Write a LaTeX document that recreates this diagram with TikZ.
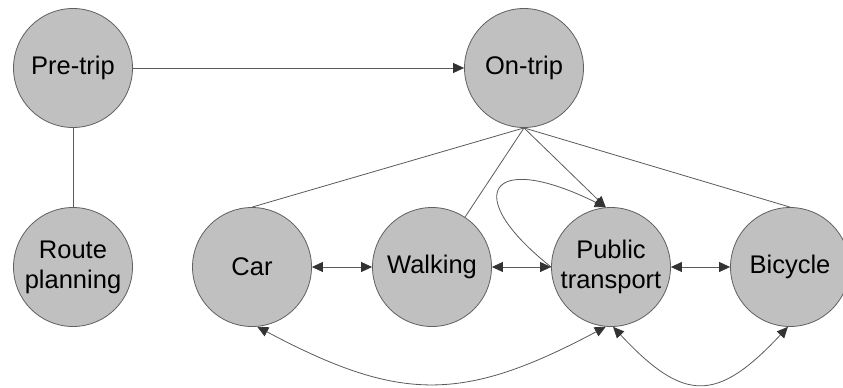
\documentclass[tikz,border=0pt]{standalone}
\usepackage{fontspec}
\setmainfont{Liberation Sans}
\usetikzlibrary{arrows.meta}
\definecolor{fillgray}{HTML}{C0C0C0}
\definecolor{bordergray}{HTML}{606060}
\definecolor{linegray}{HTML}{5A5A5A}
\definecolor{tipgray}{HTML}{333333}
\begin{document}
\begin{tikzpicture}[x=1pt,y=-1pt,
  state/.style={circle,draw=bordergray,fill=fillgray,line width=0.8pt,
    minimum size=119pt,inner sep=0pt,align=center,
    font=\fontsize{25.5}{30}\selectfont,text=black},
  conn/.style={draw=linegray,line width=0.8pt},
  tipend/.style={-{Triangle[length=11pt,width=10pt,color=tipgray]}},
  tipboth/.style={{Triangle[length=11pt,width=10pt,color=tipgray]}-{Triangle[length=11pt,width=10pt,color=tipgray]}}]
\useasboundingbox (0,0) rectangle (843,388);
\node[state] (pre)   at (73,68)   {Pre-trip};
\node[state] (on)    at (524,68)  {On-trip};
\node[state] (route) at (73,267)  {Route\\planning};
\node[state] (car)   at (252,267) {Car};
\node[state] (walk)  at (432,267) {Walking};
\node[state] (pt)    at (611,267) {Public\\transport};
\node[state] (bike)  at (790,267) {Bicycle};
% top connectors
\draw[conn,tipend] (pre) -- (on);
\draw[conn] (pre) -- (route);
\draw[conn] (on.south) -- (car.north);
\draw[conn] (on.south) -- (walk);
\draw[conn,tipend] (on.south) -- (pt.95);
\draw[conn] (on.south) -- (bike.north);
% self loop
\draw[conn,tipend] (pt.west) .. controls +(-91,-72) and +(-117,-58) .. (pt.95);
% horizontal double arrows
\draw[conn,tipboth] (car) -- (walk);
\draw[conn,tipboth] (walk) -- (pt);
\draw[conn,tipboth] (pt) -- (bike);
% bottom curves
\draw[conn,tipboth] (car.275) .. controls +(143,76) and +(-143,76) .. (pt.265);
\draw[conn,tipboth] (pt.272) .. controls +(71,76) and +(-71,76) .. (bike.268);
\end{tikzpicture}
\end{document}
